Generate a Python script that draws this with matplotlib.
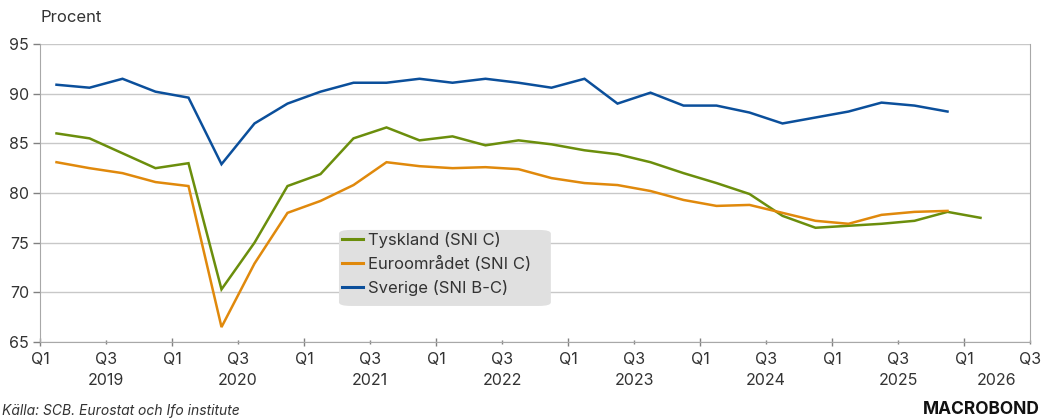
import matplotlib
matplotlib.use("Agg")
import matplotlib.pyplot as plt
from matplotlib.patches import FancyBboxPatch
from matplotlib.transforms import blended_transform_factory

# Kapacitetsutnyttjande i industrin, procent, per kvartal
quarters = [f"{y}Q{q}" for y in range(2019, 2027) for q in range(1, 5)]

sverige = [90.9, 90.6, 91.5, 90.2, 89.6, 82.9, 87.0, 89.0, 90.2, 91.1,
           91.1, 91.5, 91.1, 91.5, 91.1, 90.6, 91.5, 89.0, 90.1, 88.8,
           88.8, 88.1, 87.0, 87.6, 88.2, 89.1, 88.8, 88.2]
tyskland = [86.0, 85.5, 84.0, 82.5, 83.0, 70.3, 75.0, 80.7, 81.9, 85.5,
            86.6, 85.3, 85.7, 84.8, 85.3, 84.9, 84.3, 83.9, 83.1, 82.0,
            81.0, 79.9, 77.7, 76.5, 76.7, 76.9, 77.2, 78.1, 77.5]
euroomradet = [83.1, 82.5, 82.0, 81.1, 80.7, 66.5, 72.9, 78.0, 79.2, 80.8,
               83.1, 82.7, 82.5, 82.6, 82.4, 81.5, 81.0, 80.8, 80.2, 79.3,
               78.7, 78.8, 78.0, 77.2, 76.9, 77.8, 78.1, 78.2]

series = [
    ("Tyskland (SNI C)", tyskland, "#6b8e0c"),
    ("Euroområdet (SNI C)", euroomradet, "#e0890c"),
    ("Sverige (SNI B-C)", sverige, "#0b4f9b"),
]

years = list(range(2019, 2027))
y_ticks = [65, 70, 75, 80, 85, 90, 95]

X_END = 30  # 2026Q3


def qpos(label):
    # kvartalets mitt, räknat i kvartal från 2019Q1
    y, q = label.split("Q")
    return (int(y) - 2019) * 4 + int(q) - 1 + 0.5


plt.rcParams["font.family"] = ["Inter", "DejaVu Sans"]
TXT = "#333333"
GRID = "#c8c8c8"

fig = plt.figure(figsize=(10.46, 4.18), dpi=100)
ax = fig.add_axes([40 / 1046, 1 - 342 / 418, 990 / 1046, 298 / 418])

for name, vals, col in series:
    xs = [qpos(q) for q in quarters[:len(vals)]]
    ax.plot(xs, vals, color=col, lw=1.8, label=name, solid_joinstyle="miter")

ax.set_ylim(65, 95)
ax.set_xlim(0, X_END)
ax.set_yticks(y_ticks)
ax.grid(axis="y", color=GRID, lw=1)
ax.set_axisbelow(True)

ax.set_xticks(range(0, X_END + 1, 4))
ax.set_xticklabels(["Q1"] * 8)
ax.set_xticks(range(2, X_END + 1, 4), minor=True)
ax.set_xticklabels(["Q3"] * 8, minor=True)
ax.tick_params(axis="x", which="major", direction="inout", length=6, width=1,
               color="#808080", labelsize=11.5, labelcolor=TXT, pad=4)
ax.tick_params(axis="x", which="minor", direction="inout", length=3, width=1,
               color="#808080", labelsize=11.5, labelcolor=TXT, pad=5.5)
ax.tick_params(axis="y", direction="out", length=5, width=1,
               color="#808080", labelsize=11.5, labelcolor=TXT, pad=3)

for s in ["left", "right", "bottom"]:
    ax.spines[s].set_color("#a8a8a8")
ax.spines["top"].set_visible(False)

# årtal mitt i den synliga delen av varje år
trans = blended_transform_factory(ax.transData, ax.transAxes)
for i, yr in enumerate(years):
    start = 4 * i
    end = min(start + 4, X_END)
    ax.text((start + end) / 2, -0.13, str(yr), transform=trans, ha="center",
            va="center", fontsize=11.5, color=TXT)

fig.text(40 / 1046, 1 - 18 / 418, "Procent", fontsize=12, color=TXT,
         va="center", ha="left")

# legendruta
box = FancyBboxPatch((0.302, 0.121), 0.214, 0.255, transform=ax.transAxes,
                     boxstyle="round,pad=0,rounding_size=0.012",
                     facecolor="#e0e0e0", edgecolor="none", zorder=3)
ax.add_patch(box)
leg = ax.legend(loc="upper left", bbox_to_anchor=(0.298, 0.392), frameon=False,
                fontsize=12, handlelength=1.3, handletextpad=0.3,
                labelspacing=0.48, borderaxespad=0)
leg.set_zorder(4)
for t in leg.get_texts():
    t.set_color(TXT)
for h in leg.get_lines():
    h.set_linewidth(2.2)

fig.text(2 / 1046, 1 - 411 / 418, "Källa: SCB. Eurostat och Ifo institute",
         fontsize=10, style="italic", color=TXT, va="center", ha="left")
fig.text(1040 / 1046, 1 - 410 / 418, "MACROBOND", fontsize=12.5,
         fontweight="bold", color="#111111", va="center", ha="right")

fig.savefig("out.png", dpi=100)
